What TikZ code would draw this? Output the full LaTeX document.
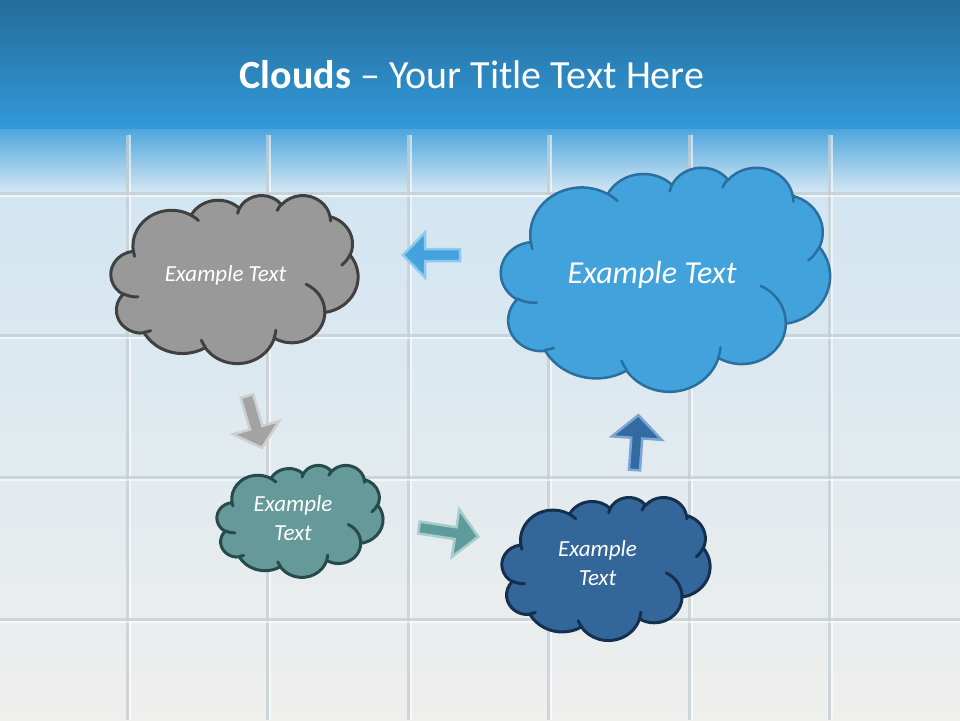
\documentclass[tikz,border=0pt]{standalone}
\usepackage{fontspec}
\setmainfont{Carlito}
\definecolor{hdrtop}{HTML}{236C9B}
\definecolor{hdrbot}{HTML}{3399D9}
\definecolor{bgA}{HTML}{CFE4F2}
\definecolor{bgB}{HTML}{DCE7EE}
\definecolor{bgC}{HTML}{EFEFED}
\definecolor{tileline}{HTML}{C4CDD3}
\definecolor{grayfill}{HTML}{999999}
\definecolor{grayline}{HTML}{404040}
\definecolor{bluefill}{HTML}{42A2DC}
\definecolor{blueline}{HTML}{2A6F9E}
\definecolor{tealfill}{HTML}{669999}
\definecolor{tealline}{HTML}{274A4A}
\definecolor{navyfill}{HTML}{336699}
\definecolor{navyline}{HTML}{15304F}
\definecolor{arrgrayF}{HTML}{A3A3A3}
\definecolor{arrgrayL}{HTML}{CFCFCF}
\definecolor{arrblueF}{HTML}{45A2DC}
\definecolor{arrblueL}{HTML}{8EC9EE}
\definecolor{arrtealF}{HTML}{5F9B9B}
\definecolor{arrtealL}{HTML}{A7CCCC}
\definecolor{arrnavyF}{HTML}{336AA1}
\definecolor{arrnavyL}{HTML}{7AA6D6}
% elliptical arc with OOXML-style (visual) angles
\def\cldarc#1#2#3#4{arc[x radius=#1, y radius=#2, start angle={(atan2((#1)*sin(#3),(#2)*cos(#3)))}, delta angle={(mod(atan2((#1)*sin((#3)+(#4)),(#2)*cos((#3)+(#4)))-atan2((#1)*sin(#3),(#2)*cos(#3))+720,360))}]}
\def\cloudouter{(3.9,14.37) \cldarc{6.753}{9.19}{-190.4875}{123.7805} \cldarc{5.333}{7.267}{-144.1024}{89.9452} \cldarc{4.365}{5.945}{-145.8079}{99.7230} \cldarc{4.857}{6.595}{-130.9861}{117.2417} \cldarc{5.333}{7.273}{-78.7089}{109.0269} \cldarc{6.775}{9.22}{-46.2673}{130.269} \cldarc{5.785}{7.867}{0.6250}{114.0333} \cldarc{6.752}{9.215}{22.4516}{115.1726} \cldarc{7.72}{10.543}{66.2426}{75.7110} \cldarc{4.36}{5.918}{-274.9421}{146.7356} \cldarc{4.345}{5.945}{-246.8285}{152.5189} -- cycle}
\def\cloudinner{(4.693,26.177) \cldarc{4.345}{5.945}{86.742}{26.4295} (6.928,34.899) \cldarc{4.36}{5.918}{73.6105}{11.4475} (16.478,39.09) \cldarc{6.752}{9.215}{137.6242}{14.0811} (28.827,34.751) \cldarc{6.752}{9.215}{6.4533}{15.9984} (34.129,22.954) \cldarc{5.785}{7.867}{-70.2924}{70.9174} (41.798,15.354) \cldarc{5.333}{7.273}{30.318}{27.7515} (38.324,5.426) \cldarc{4.857}{6.595}{-13.7443}{14.8589} (29.078,3.952) \cldarc{4.857}{6.595}{-149.1815}{18.1954} (22.141,4.72) \cldarc{4.365}{5.945}{-163.4943}{17.6864} (14,5.192) \cldarc{6.753}{9.19}{-66.707}{12.3194} (4.127,15.789) \cldarc{6.753}{9.19}{157.6544}{11.8582}}
\begin{document}
\begin{tikzpicture}[x=1pt,y=-1pt,
  cloudtxt/.style={text=white, font=\itshape\fontsize{23}{28.5}\selectfont, align=center, inner sep=0pt},
  graycl/.style={fill=grayfill, draw=grayline, line width=3pt, line join=round},
  bluecl/.style={fill=bluefill, draw=blueline, line width=2.5pt, line join=round},
  tealcl/.style={fill=tealfill, draw=tealline, line width=3pt, line join=round},
  navycl/.style={fill=navyfill, draw=navyline, line width=3pt, line join=round},
  innerarc/.style={fill=none, line cap=round},
  blockarrow/.style={line width=2.5pt, line join=miter}]
\useasboundingbox (0,0) rectangle (960,720);
% background
\shade[top color=bgA, middle color=bgB, bottom color=bgC] (0,126) rectangle (960,720);
\shade[top color=hdrbot!90!white, bottom color=bgA] (0,126) rectangle (960,190);
\shade[top color=hdrtop, bottom color=hdrbot] (0,0) rectangle (960,128);
% tiles
\foreach \xx in {127,267,408,548,689,829} {
  \draw[tileline, line width=3pt, opacity=0.75] (\xx,135) -- (\xx,720);
  \draw[white, line width=1.2pt, opacity=0.6] (\xx+3,135) -- (\xx+3,720);
}
\foreach \yy in {193,335,477,619} {
  \draw[tileline, line width=3pt, opacity=0.75] (0,\yy) -- (960,\yy);
  \draw[white, line width=1.2pt, opacity=0.6] (0,\yy+3) -- (960,\yy+3);
}
% title
\node[anchor=base, text=white, font=\fontsize{40}{48}\selectfont, inner sep=0pt] (title) at (472,88) {\textbf{Clouds} -- Your Title Text Here};
% gray cloud
\begin{scope}[shift={(111pt,-195pt)}, x=5.7176pt, y=-3.8889pt]
  \draw[graycl] \cloudouter;
  \draw[graycl, innerarc] \cloudinner;
\end{scope}
\node[cloudtxt, anchor=base] (c1) at (225.5,281) {Example Text};
% big blue cloud
\begin{scope}[shift={(501pt,-167pt)}, x=7.6157pt, y=-5.1852pt]
  \draw[bluecl] \cloudouter;
  \draw[bluecl, innerarc] \cloudinner;
\end{scope}
\node[cloudtxt, anchor=base, font=\itshape\fontsize{32}{38}\selectfont] (c2) at (652,283) {Example Text};
% teal cloud
\begin{scope}[shift={(217pt,-465pt)}, x=3.8426pt, y=-2.5926pt]
  \draw[tealcl] \cloudouter;
  \draw[tealcl, innerarc] \cloudinner;
\end{scope}
\node[cloudtxt] (c3) at (293,518) {Example\\Text};
% navy cloud
\begin{scope}[shift={(502pt,-497pt)}, x=4.8148pt, y=-3.3102pt]
  \draw[navycl] \cloudouter;
  \draw[navycl, innerarc] \cloudinner;
\end{scope}
\node[cloudtxt] (c4) at (597.5,563) {Example\\Text};
% block arrows
\draw[blockarrow, fill=arrblueF, draw=arrblueL, shift={(460,255)}, rotate=180]
  (0,-6) -- (35,-6) -- (35,-22.5) -- (57,0) -- (35,22.5) -- (35,6) -- (0,6) -- cycle;
\draw[blockarrow, fill=arrgrayF, draw=arrgrayL, shift={(247,396)}, rotate=-73.9]
  (0,-6.5) -- (33,-6.5) -- (33,-24) -- (54,0) -- (33,24) -- (33,6.5) -- (0,6.5) -- cycle;
\draw[blockarrow, fill=arrtealF, draw=arrtealL, shift={(419,527.5)}, rotate=-8.8]
  (0,-6) -- (37,-6) -- (37,-24) -- (60,0) -- (37,24) -- (37,6) -- (0,6) -- cycle;
\draw[blockarrow, fill=arrnavyF, draw=arrnavyL, shift={(634.5,470)}, rotate=86]
  (0,-5.5) -- (32,-5.5) -- (32,-25) -- (55,0) -- (32,25) -- (32,5.5) -- (0,5.5) -- cycle;
\end{tikzpicture}
\end{document}
